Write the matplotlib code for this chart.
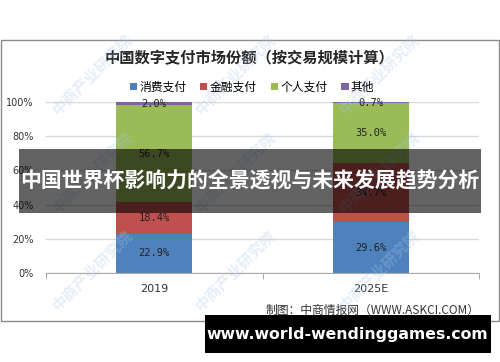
import matplotlib
matplotlib.use('Agg')
import matplotlib.pyplot as plt
from matplotlib.patches import Rectangle

plt.rcParams['font.family'] = ['Noto Sans CJK SC', 'DejaVu Sans']

# data
years = ['2019', '2025E']
consumer = [22.9, 29.6]
financial = [18.4, 34.7]
personal = [56.7, 35.0]
other = [2.0, 0.7]
series_names = ['消费支付', '金融支付', '个人支付', '其他']
colors = ['#4f81bd', '#c0504d', '#9bbb59', '#8064a2']

W, H = 500, 362
fig = plt.figure(figsize=(W / 100, H / 100), dpi=100)
fig.patch.set_facecolor('white')

def fx(px):
    return px / W

def fy(py):
    return (H - py) / H

# chart border
fig.patches.append(Rectangle((fx(0.5), fy(321)), fx(498), (321 - 40) / H,
                             transform=fig.transFigure, fill=False,
                             edgecolor='#8c8c8c', lw=1))

ax = fig.add_axes([fx(46), fy(273), fx(479 - 46), (273 - 102) / H])
x = range(len(years))
bottom = [0, 0]
for vals, name, c in zip([consumer, financial, personal, other], series_names, colors):
    ax.bar(x, vals, 0.35, bottom=bottom, color=c, label=name, zorder=2)
    for i, v in enumerate(vals):
        ax.text(i, bottom[i] + v / 2, f'{v:.1f}%', ha='center', va='center',
                fontsize=7.5, family='DejaVu Sans Mono', color='#222222', zorder=3)
    bottom = [b + v for b, v in zip(bottom, vals)]

ax.set_xlim(-0.5, 1.5)
ax.set_ylim(0, 100)
ax.set_yticks(range(0, 101, 20))
ax.set_yticklabels([f'{t}%' for t in range(0, 101, 20)], fontsize=7,
                   family='DejaVu Sans', color='#333333')
ax.set_xticks(list(x))
ax.set_xticklabels(years, fontsize=8, family='DejaVu Sans', color='#333333')
ax.tick_params(axis='y', length=0, pad=9)
ax.tick_params(axis='x', length=0, pad=8)
ax.set_xticks([-0.5, 0.5, 1.5], minor=True)
ax.tick_params(axis='x', which='minor', length=4, color='#999999', direction='out')
ax.grid(axis='y', color='#d9d9d9', lw=1, zorder=0)
for s in ['top', 'right', 'left']:
    ax.spines[s].set_visible(False)
ax.spines['bottom'].set_color('#aaaaaa')

fig.text(fx(250), fy(58), '中国数字支付市场份额（按交易规模计算）', ha='center', va='center',
         fontsize=11, fontweight='bold', color='#262626')
fig.legend(loc='center', bbox_to_anchor=(fx(252), fy(87)), ncol=4, frameon=False,
           fontsize=8.5, handlelength=0.6, handleheight=0.6, handletextpad=0.2,
           columnspacing=1.2)

fig.text(fx(480), fy(310), '制图：中商情报网（WWW.ASKCI.COM）', ha='right', va='center',
         fontsize=8.5, color='#333333')

# watermarks
for wx in [55, 198, 342]:
    for wy in [112, 210, 308]:
        fig.text(fx(wx), fy(wy), '中商产业研究院', rotation=45, rotation_mode='anchor',
                 ha='left', va='center', fontsize=11, fontweight='bold',
                 color='#a9c9e8', alpha=0.3, zorder=5)

# overlay banner
fig.patches.append(Rectangle((fx(19), fy(213)), fx(481 - 19), (213 - 149) / H,
                             transform=fig.transFigure, facecolor='black',
                             alpha=0.61, edgecolor='none', zorder=10))
fig.text(fx(250), fy(181), '中国世界杯影响力的全景透视与未来发展趋势分析', ha='center',
         va='center', fontsize=15, fontweight='bold', color='white', zorder=11)

fig.patches.append(Rectangle((fx(205), fy(353)), fx(491 - 205), (353 - 315) / H,
                             transform=fig.transFigure, facecolor='black',
                             edgecolor='none', zorder=10))
fig.text(fx(347), fy(334), 'www.world-wendinggames.com', ha='center', va='center',
         fontsize=11.3, fontweight='bold', color='white', family='DejaVu Sans', zorder=11)

fig.savefig('out.png', dpi=100)
